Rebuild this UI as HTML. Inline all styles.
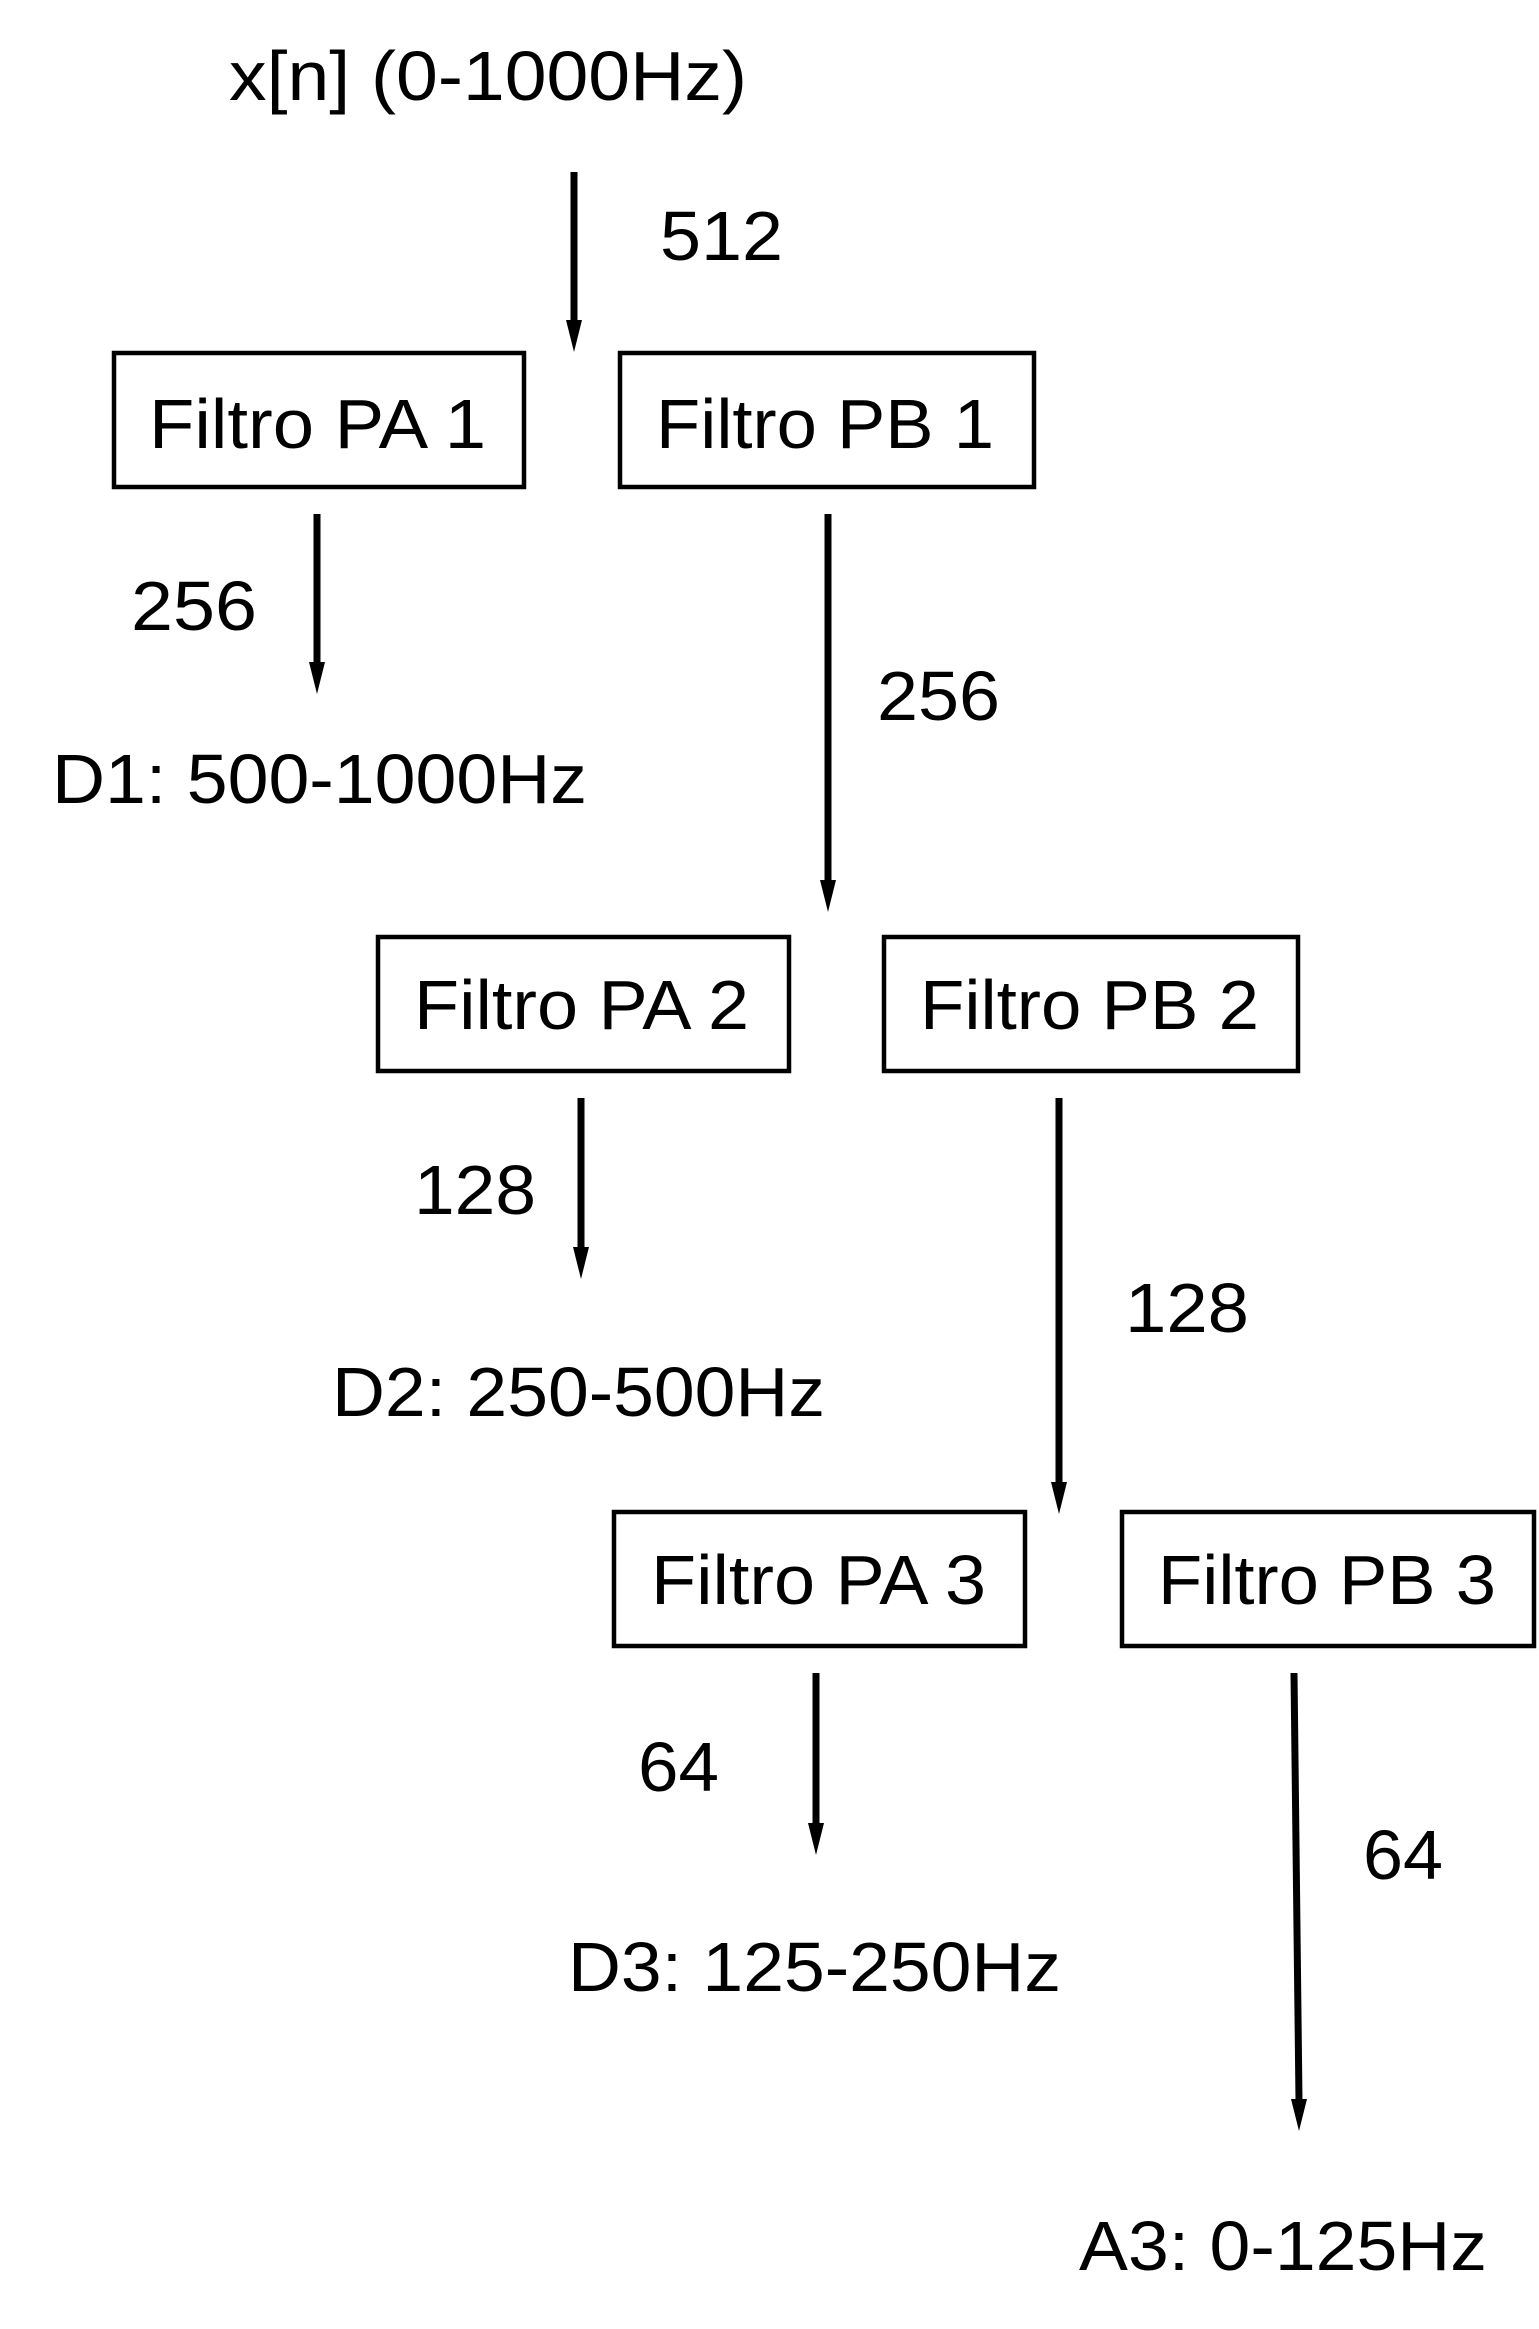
<!DOCTYPE html>
<html><head><meta charset="utf-8"><style>html,body{margin:0;padding:0;background:#fff}svg{display:block}</style></head><body>
<svg width="1539" height="2329" viewBox="0 0 1539 2329" xmlns="http://www.w3.org/2000/svg" font-family="Liberation Sans, sans-serif" font-size="70" fill="#000">
<g stroke="#000" stroke-width="4.5" fill="none">
<rect x="114" y="353" width="410" height="134"/>
<rect x="620" y="353" width="414" height="134"/>
<rect x="378" y="937" width="411" height="134"/>
<rect x="884" y="937" width="414" height="134"/>
<rect x="614" y="1512" width="411" height="134"/>
<rect x="1122" y="1512" width="412" height="134"/>
</g>
<g stroke="#000" stroke-width="7">
<line x1="574" y1="172" x2="574" y2="322"/>
<line x1="317" y1="514" x2="317" y2="664"/>
<line x1="828" y1="514" x2="828" y2="882"/>
<line x1="581" y1="1098" x2="581" y2="1249"/>
<line x1="1059" y1="1098" x2="1059" y2="1484"/>
<line x1="816" y1="1673" x2="816" y2="1825"/>
<line x1="1294" y1="1673" x2="1299" y2="2101"/>
</g>
<g fill="#000">
<path d="M566,320 L582,320 L574,352 z"/>
<path d="M309,662 L325,662 L317,694 z"/>
<path d="M820,880 L836,880 L828,912 z"/>
<path d="M573,1247 L589,1247 L581,1279 z"/>
<path d="M1051,1482 L1067,1482 L1059,1514 z"/>
<path d="M808,1823 L824,1823 L816,1855 z"/>
<path d="M1291,2099 L1307,2099 L1299,2131 z"/>
</g>
<text x="229" y="100" textLength="518" lengthAdjust="spacingAndGlyphs">x[n] (0-1000Hz)</text>
<text x="660" y="260" textLength="123" lengthAdjust="spacingAndGlyphs">512</text>
<text x="149" y="448" textLength="337" lengthAdjust="spacingAndGlyphs">Filtro PA 1</text>
<text x="656" y="448" textLength="338" lengthAdjust="spacingAndGlyphs">Filtro PB 1</text>
<text x="131" y="630" textLength="126" lengthAdjust="spacingAndGlyphs">256</text>
<text x="52" y="803" textLength="535" lengthAdjust="spacingAndGlyphs">D1: 500-1000Hz</text>
<text x="877" y="720" textLength="123" lengthAdjust="spacingAndGlyphs">256</text>
<text x="414" y="1029" textLength="335" lengthAdjust="spacingAndGlyphs">Filtro PA 2</text>
<text x="920" y="1029" textLength="339" lengthAdjust="spacingAndGlyphs">Filtro PB 2</text>
<text x="414" y="1214" textLength="122" lengthAdjust="spacingAndGlyphs">128</text>
<text x="332" y="1416" textLength="493" lengthAdjust="spacingAndGlyphs">D2: 250-500Hz</text>
<text x="1125" y="1332" textLength="124" lengthAdjust="spacingAndGlyphs">128</text>
<text x="651" y="1604" textLength="335" lengthAdjust="spacingAndGlyphs">Filtro PA 3</text>
<text x="1158" y="1604" textLength="338" lengthAdjust="spacingAndGlyphs">Filtro PB 3</text>
<text x="638" y="1791" textLength="81" lengthAdjust="spacingAndGlyphs">64</text>
<text x="568" y="1991" textLength="493" lengthAdjust="spacingAndGlyphs">D3: 125-250Hz</text>
<text x="1363" y="1879" textLength="80" lengthAdjust="spacingAndGlyphs">64</text>
<text x="1079" y="2270" textLength="408" lengthAdjust="spacingAndGlyphs">A3: 0-125Hz</text>
</svg>
</body></html>
